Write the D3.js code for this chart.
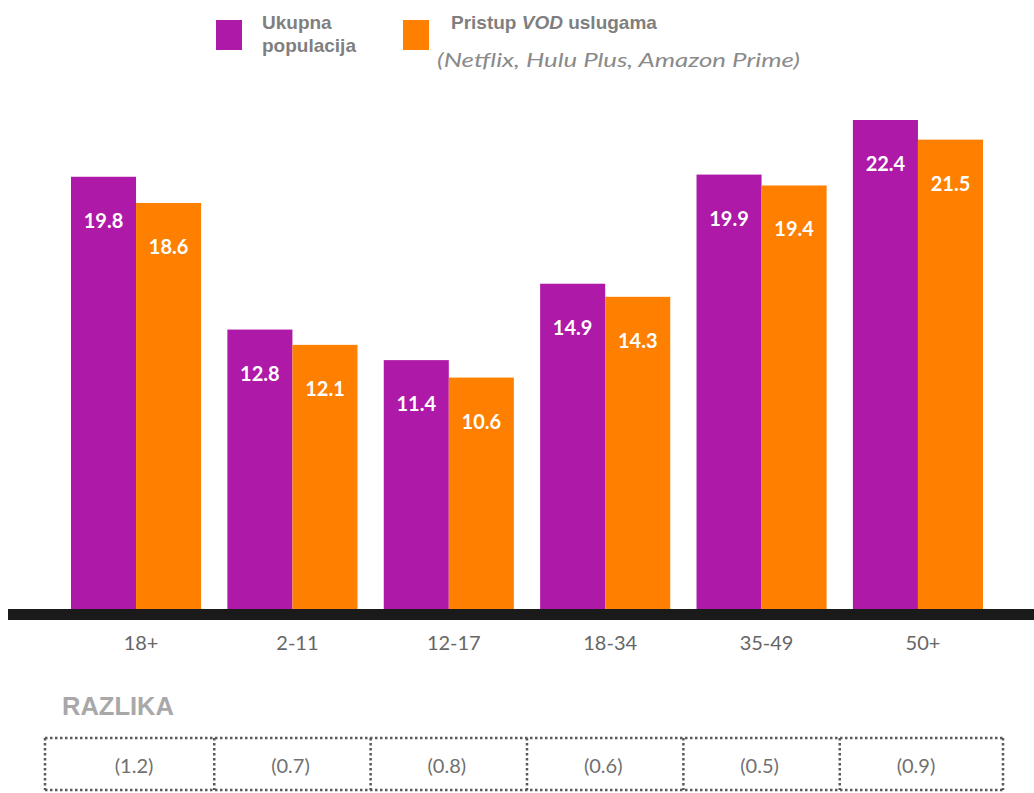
<!DOCTYPE html>
<html>
<head>
<meta charset="utf-8">
<script src="https://cdn.jsdelivr.net/npm/d3@7"></script>
<style>
  body { margin: 0; background: #fff; }
  svg { display: block; }
</style>
</head>
<body>
<svg id="chart"></svg>
<script>
// podaci
var categories = ["18+", "2-11", "12-17", "18-34", "35-49", "50+"];
var ukupna = [19.8, 12.8, 11.4, 14.9, 19.9, 22.4];
var vod = [18.6, 12.1, 10.6, 14.3, 19.4, 21.5];
var razlika = ["(1.2)", "(0.7)", "(0.8)", "(0.6)", "(0.5)", "(0.9)"];
var seriesNames = ["ukupna", "vod"];

var W = 1034, H = 793;
var purple = "#ae19a8", orange = "#ff8000";
var arial = "'Liberation Sans', Arial, sans-serif";

var svg = d3.select("#chart").attr("width", W).attr("height", H);

var x = d3.scaleBand().domain(categories).range([71, 983]).paddingInner(0.168).paddingOuter(0);
var xs = d3.scaleBand().domain(seriesNames).range([0, x.bandwidth()]);
var y = d3.scaleLinear().domain([0, 22.4]).range([609, 120]);

var rows = categories.map(function (c, i) {
  return { cat: c, vals: [{ k: "ukupna", v: ukupna[i] }, { k: "vod", v: vod[i] }] };
});

var g = svg.selectAll("g.grp").data(rows).enter().append("g")
  .attr("class", "grp")
  .attr("transform", function (d) { return "translate(" + x(d.cat) + ",0)"; });

g.selectAll("rect").data(function (d) { return d.vals; }).enter().append("rect")
  .attr("x", function (d) { return xs(d.k); })
  .attr("y", function (d) { return y(d.v); })
  .attr("width", xs.bandwidth())
  .attr("height", function (d) { return y(0) - y(d.v); })
  .attr("fill", function (d) { return d.k == "ukupna" ? purple : orange; });

g.selectAll("text").data(function (d) { return d.vals; }).enter().append("text")
  .attr("x", function (d) { return xs(d.k) + xs.bandwidth() / 2; })
  .attr("y", function (d) { return y(d.v) + 51; })
  .attr("text-anchor", "middle")
  .attr("fill", "#fff")
  .style("font-family", "Lato, sans-serif")
  .style("font-weight", "bold")
  .style("font-size", "20px")
  .text(function (d) { return d.v.toFixed(1); });

// bazna linija
svg.append("rect").attr("x", 8).attr("y", 609).attr("width", W - 8).attr("height", 11).attr("fill", "#1a1a1a");

// x oznake
svg.selectAll("text.xl").data(categories).enter().append("text")
  .attr("class", "xl")
  .attr("x", function (d) { return x(d) + x.bandwidth() / 2 + 5; })
  .attr("y", 650)
  .attr("text-anchor", "middle")
  .attr("fill", "#666")
  .style("font-family", "Lato, sans-serif")
  .style("font-size", "20px")
  .text(function (d) { return d; });

// legenda
svg.append("rect").attr("x", 216).attr("y", 20).attr("width", 26).attr("height", 30).attr("fill", purple);
svg.append("rect").attr("x", 403).attr("y", 20).attr("width", 26).attr("height", 30).attr("fill", orange);
svg.append("text").attr("x", 262).attr("y", 29).attr("fill", "#7f7f7f").style("font-family", arial).style("font-weight", "bold").style("font-size", "19px").text("Ukupna");
svg.append("text").attr("x", 262).attr("y", 52).attr("fill", "#7f7f7f").style("font-family", arial).style("font-weight", "bold").style("font-size", "19px").text("populacija");
var t2 = svg.append("text").attr("x", 451).attr("y", 29).attr("fill", "#7f7f7f").style("font-family", arial).style("font-weight", "bold").style("font-size", "19px");
t2.append("tspan").text("Pristup ");
t2.append("tspan").style("font-style", "italic").text("VOD");
t2.append("tspan").text(" uslugama");
svg.append("text").attr("x", 437).attr("y", 67).attr("fill", "#8a8a8a")
  .attr("textLength", 363).attr("lengthAdjust", "spacingAndGlyphs")
  .style("font-family", "Lato, sans-serif").style("font-style", "italic").style("font-size", "20px")
  .text("(Netflix, Hulu Plus, Amazon Prime)");

// razlika
svg.append("text").attr("x", 62).attr("y", 715).attr("fill", "#a8a8a8").style("font-family", arial).style("font-weight", "bold").style("font-size", "25.5px").text("RAZLIKA");

var gap = x.step() - x.bandwidth();
function cellL(c, i) { return i == 0 ? 45 : x(c) - gap / 2; }
function cellR(c, i) { return i == categories.length - 1 ? 1003 : x(c) + x.bandwidth() + gap / 2; }

var tb = svg.append("g");
var tTop = 738, tBot = 790;
var edges = categories.map(cellL).concat([cellR(categories[5], 5)]);
tb.selectAll("line.h").data([tTop, tBot]).enter().append("line")
  .attr("class", "h")
  .attr("x1", 45).attr("x2", 1003)
  .attr("y1", function (d) { return d; }).attr("y2", function (d) { return d; });
tb.selectAll("line.v").data(edges).enter().append("line")
  .attr("class", "v")
  .attr("x1", function (d) { return d; }).attr("x2", function (d) { return d; })
  .attr("y1", tTop).attr("y2", tBot);
tb.selectAll("line")
  .attr("stroke", "#5a5a5a")
  .attr("stroke-width", 2.5)
  .attr("stroke-dasharray", "2.5,2.5");
tb.selectAll("text").data(razlika).enter().append("text")
  .attr("x", function (d, i) { return x(categories[i]) + x.bandwidth() / 2 - 2; })
  .attr("y", 773)
  .attr("text-anchor", "middle")
  .attr("fill", "#707070")
  .style("font-family", "Lato, sans-serif")
  .style("font-size", "20px")
  .text(function (d) { return d; });
</script>
</body>
</html>
